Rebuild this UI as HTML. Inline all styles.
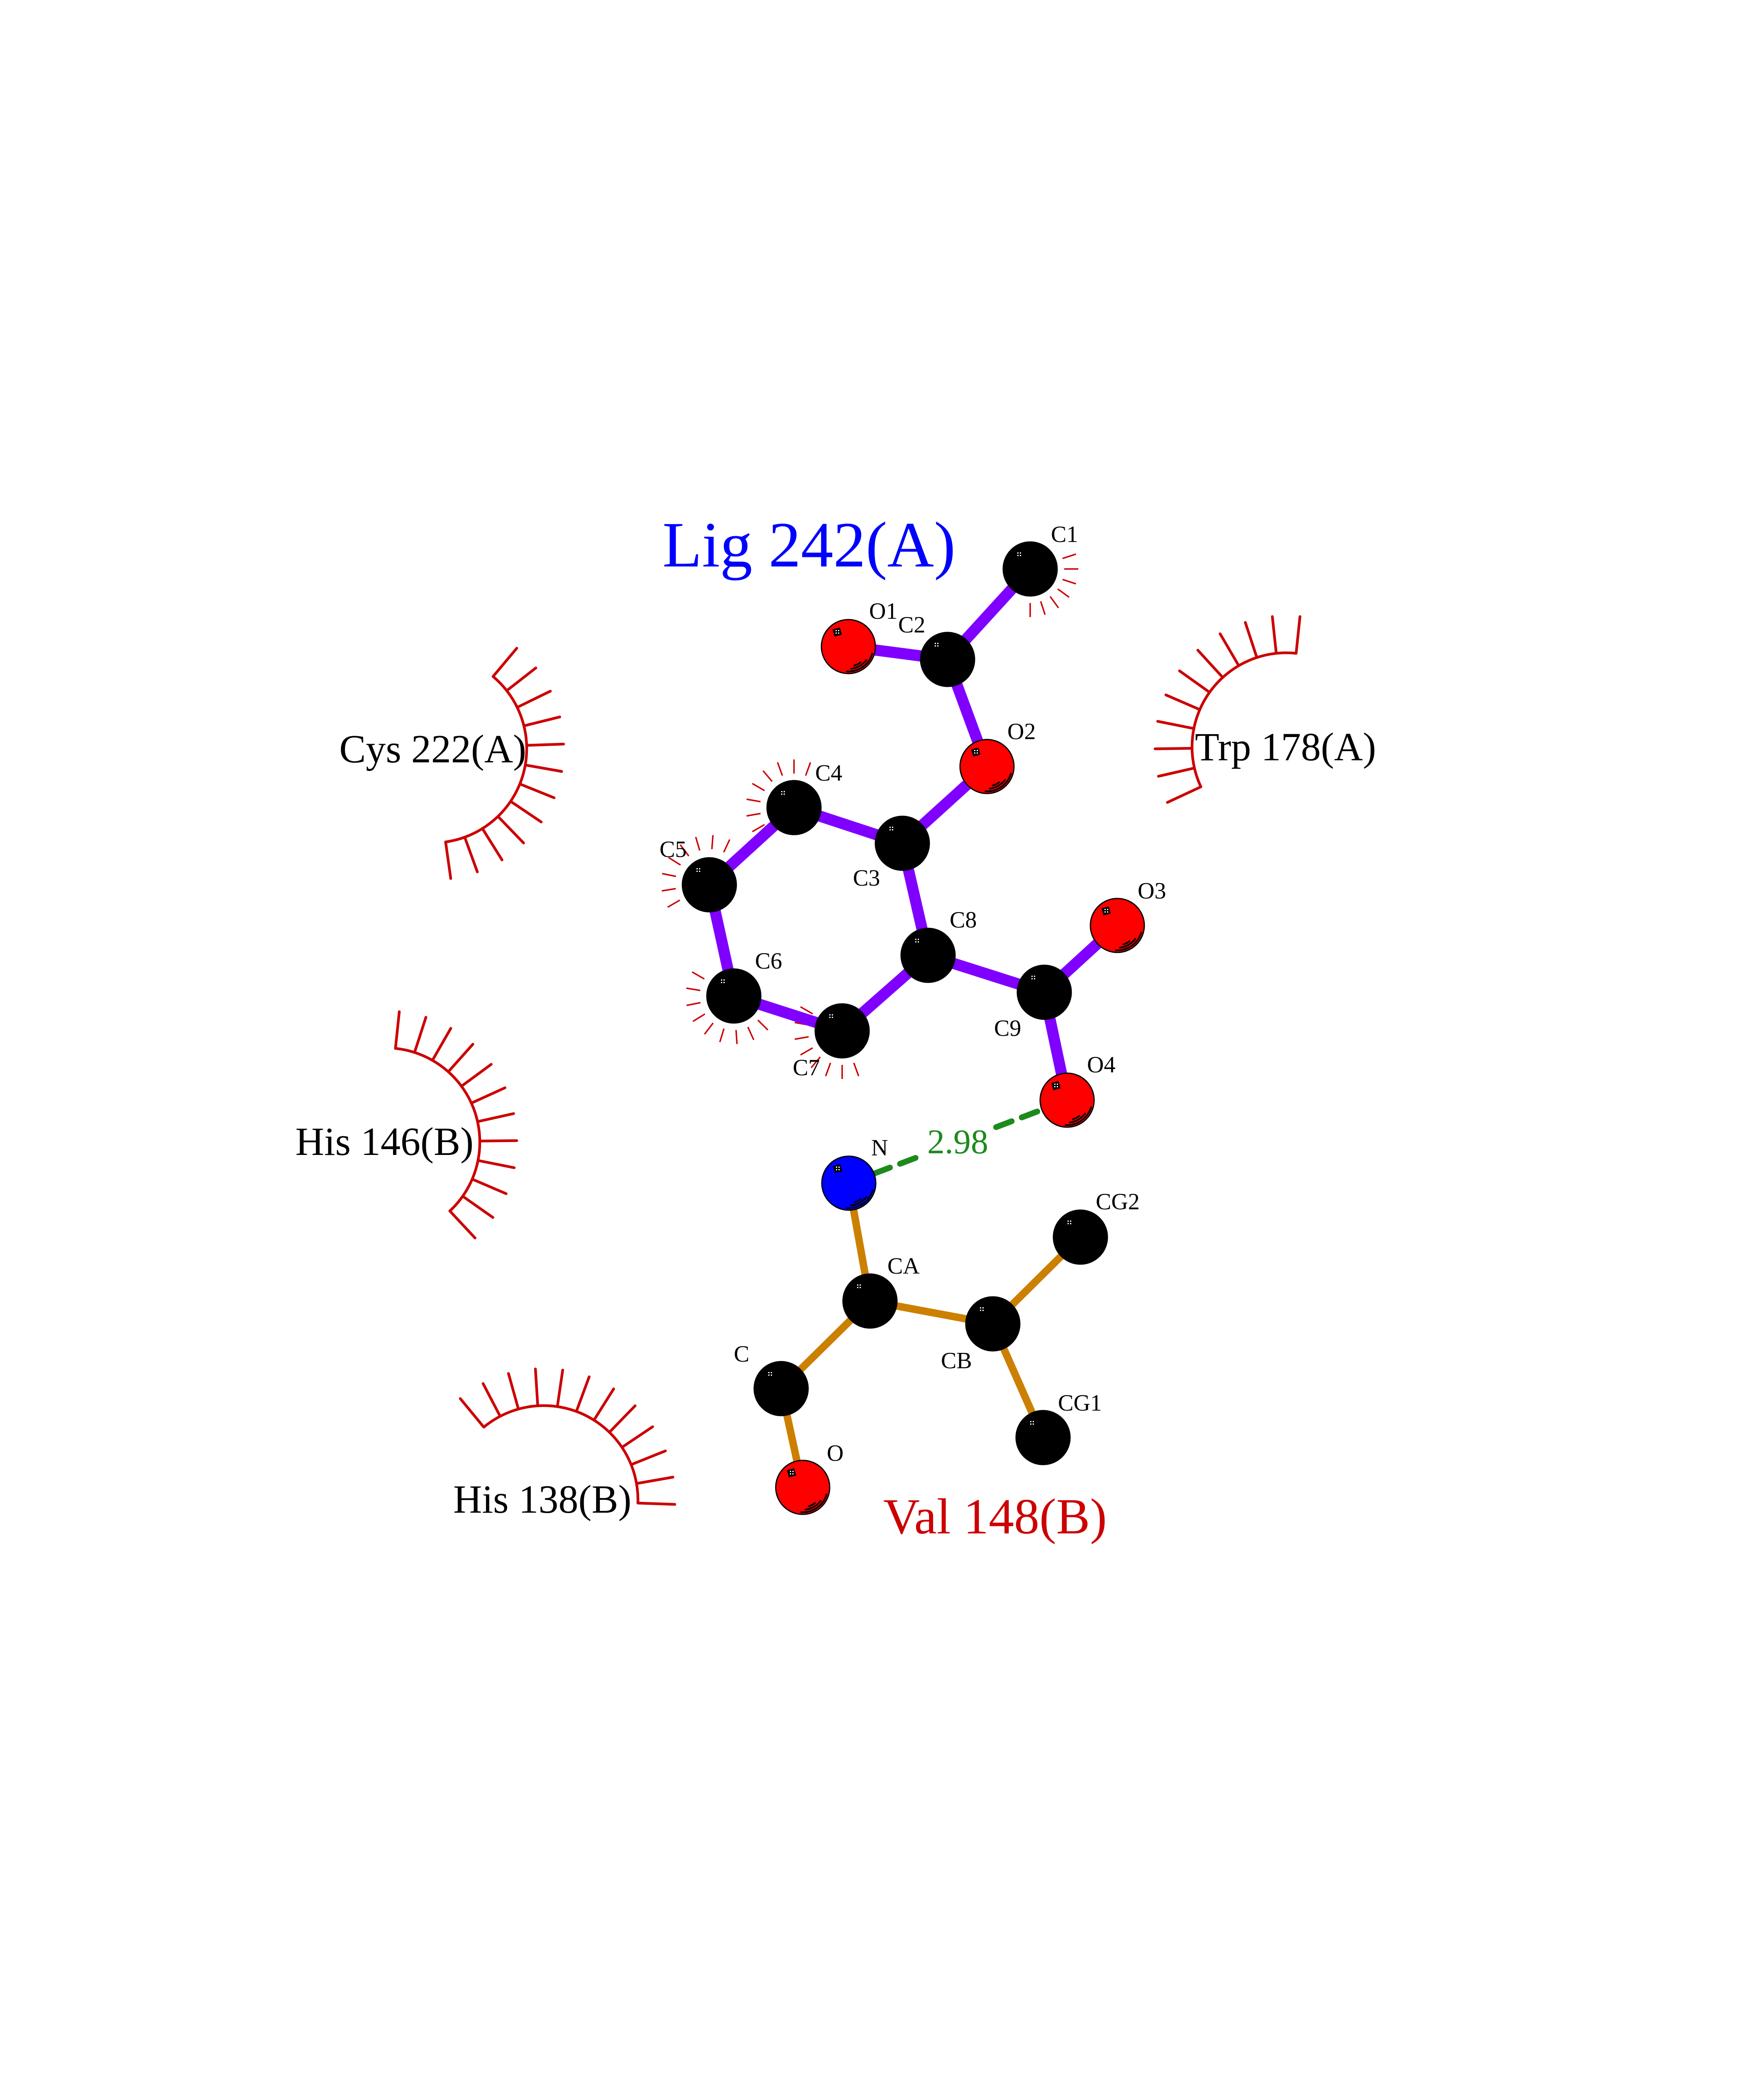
<!DOCTYPE html>
<html><head><meta charset="utf-8"><style>
html,body{margin:0;padding:0;background:#fff;width:4250px;height:5500px;overflow:hidden}
svg{display:block;overflow:hidden}
text{font-family:"Liberation Serif",serif}
</style></head><body>
<svg id="s" xmlns="http://www.w3.org/2000/svg" width="4250" height="5500" viewBox="0 0 4250 5500">
<rect width="4250" height="5500" fill="#fff"/>
<g id="arcs" stroke="#cc0000" fill="none" stroke-linecap="round"></g>
<g id="hyd" stroke="#cc0000" stroke-width="3.5"></g>
<g id="bonds" stroke-linecap="butt"></g>
<g stroke="#1e8a1e" stroke-width="14" stroke-dasharray="40,26" stroke-linecap="round">
<line x1="2045" y1="2851" x2="2222" y2="2784"/>
<line x1="2400" y1="2716" x2="2571" y2="2651"/>
</g>
<g id="atoms"></g>
<g fill="#000" font-size="56">
<text x="2532" y="1306">C1</text>
<text x="2094" y="1491">O1</text>
<text x="2164" y="1524">C2</text>
<text x="2427" y="1781">O2</text>
<text x="1964" y="1881">C4</text>
<text x="1589" y="2065">C5</text>
<text x="2055" y="2134">C3</text>
<text x="2288" y="2235">C8</text>
<text x="2741" y="2165">O3</text>
<text x="1819" y="2334">C6</text>
<text x="1910" y="2591">C7</text>
<text x="2395" y="2496">C9</text>
<text x="2619" y="2584">O4</text>
<text x="2099" y="2784">N</text>
<text x="2640" y="2914">CG2</text>
<text x="2138" y="3069">CA</text>
<text x="1768" y="3281">C</text>
<text x="2267" y="3297">CB</text>
<text x="2549" y="3399">CG1</text>
<text x="1992" y="3520">O</text>
</g>
<text x="2234" y="2779" font-size="84" fill="#1e8a1e">2.98</text>
<text x="1596" y="1365" font-size="156" fill="#0000ff">Lig 242(A)</text>
<text x="2128" y="3695" font-size="122" fill="#cc0000">Val 148(B)</text>
<g font-size="96" fill="#000">
<text x="1268" y="1837" text-anchor="end">Cys 222(A)</text>
<text x="2879" y="1832">Trp 178(A)</text>
<text x="1141" y="2783" text-anchor="end">His 146(B)</text>
<text x="1092" y="3645">His 138(B)</text>
</g>
<circle cx="208" cy="5153" r="4" fill="#000"/>
</svg>
<script>
var NS="http://www.w3.org/2000/svg";
function el(p,n,a){var e=document.createElementNS(NS,n);for(var k in a)e.setAttribute(k,a[k]);p.appendChild(e);return e;}
var R=Math.PI/180;
var arcs=document.getElementById('arcs');
function resArc(cx,cy,r,a0,a1,n){
  var x0=cx+r*Math.cos(a0*R),y0=cy+r*Math.sin(a0*R),x1=cx+r*Math.cos(a1*R),y1=cy+r*Math.sin(a1*R);
  el(arcs,'path',{d:'M'+x0+' '+y0+' A'+r+' '+r+' 0 0 1 '+x1+' '+y1,'stroke-width':6.5});
  for(var i=0;i<n;i++){var a=(a0+(a1-a0)*i/(n-1))*R;
    el(arcs,'line',{x1:cx+r*Math.cos(a),y1:cy+r*Math.sin(a),x2:cx+(r+89)*Math.cos(a),y2:cy+(r+89)*Math.sin(a),'stroke-width':6.5});}
}
resArc(1042,1804,227,-50,82,12);
resArc(3099,1800,227,155,276,11);
resArc(929,2752,227,-84,47,12);
resArc(1310,3614,227,230.5,362,12);
var hyd=document.getElementById('hyd');
function hs(cx,cy,a0,a1,n){for(var i=0;i<n;i++){var a=(a0+(a1-a0)*i/(n-1))*R;
  el(hyd,'line',{x1:cx+82*Math.cos(a),y1:cy+82*Math.sin(a),x2:cx+116*Math.cos(a),y2:cy+116*Math.sin(a)});}}
hs(2482,1371,-18,90,7);
hs(1913,1946,150,290,8);
hs(1709,2128,150,295,8);
hs(1768,2400,45,210,9);
hs(2029,2484,70,210,8);
var A={C1:[2482,1371,'#000'],O1:[2044,1558,'#f00'],C2:[2283,1589,'#000'],O2:[2378,1847,'#f00'],
C4:[1913,1946,'#000'],C3:[2174,2032,'#000'],C5:[1709,2132,'#000'],C8:[2236,2302,'#000'],
C6:[1768,2400,'#000'],C7:[2029,2484,'#000'],C9:[2516,2391,'#000'],O3:[2692,2230,'#f00'],
O4:[2571,2651,'#f00'],N:[2045,2851,'#0000ff'],CA:[2096,3135,'#000'],CB:[2392,3190,'#000'],
CG2:[2603,2981,'#000'],C:[1882,3346,'#000'],CG1:[2513,3464,'#000'],O:[1934,3584,'#f00']};
var bonds=document.getElementById('bonds');
var P=[['C1','C2'],['O1','C2'],['C2','O2'],['O2','C3'],['C3','C4'],['C4','C5'],['C5','C6'],['C6','C7'],['C7','C8'],['C8','C3'],['C8','C9'],['C9','O3'],['C9','O4']];
var Og=[['N','CA'],['CA','C'],['C','O'],['CA','CB'],['CB','CG2'],['CB','CG1']];
P.forEach(function(b){var a=A[b[0]],c=A[b[1]];el(bonds,'line',{x1:a[0],y1:a[1],x2:c[0],y2:c[1],stroke:'#8000ff','stroke-width':27});});
Og.forEach(function(b){var a=A[b[0]],c=A[b[1]];el(bonds,'line',{x1:a[0],y1:a[1],x2:c[0],y2:c[1],stroke:'#cc8000','stroke-width':18});});
var atoms=document.getElementById('atoms');
for(var k in A){var a=A[k],x=a[0],y=a[1];
  el(atoms,'circle',{cx:x,cy:y,r:65,fill:a[2],stroke:'#000','stroke-width':3});
  if(a[2]!='#000'){
    [[60,15,95],[54,35,85],[48,50,75]].forEach(function(q){var r=q[0],s=q[1]*R,e=q[2]*R;
      el(atoms,'path',{d:'M'+(x+r*Math.cos(s))+' '+(y+r*Math.sin(s))+' A'+r+' '+r+' 0 0 1 '+(x+r*Math.cos(e))+' '+(y+r*Math.sin(e)),stroke:'#000','stroke-width':4,fill:'none'});});
    el(atoms,'rect',{x:x-36,y:y-44,width:18,height:18,fill:'#000',transform:'rotate(-15 '+(x-27)+' '+(y-35)+')'});
  }
  [[-31,-40],[-25,-40],[-31,-34],[-25,-34]].forEach(function(d){el(atoms,'rect',{x:x+d[0],y:y+d[1],width:3,height:3,fill:'#fff'});});
}
</script>
</body></html>
